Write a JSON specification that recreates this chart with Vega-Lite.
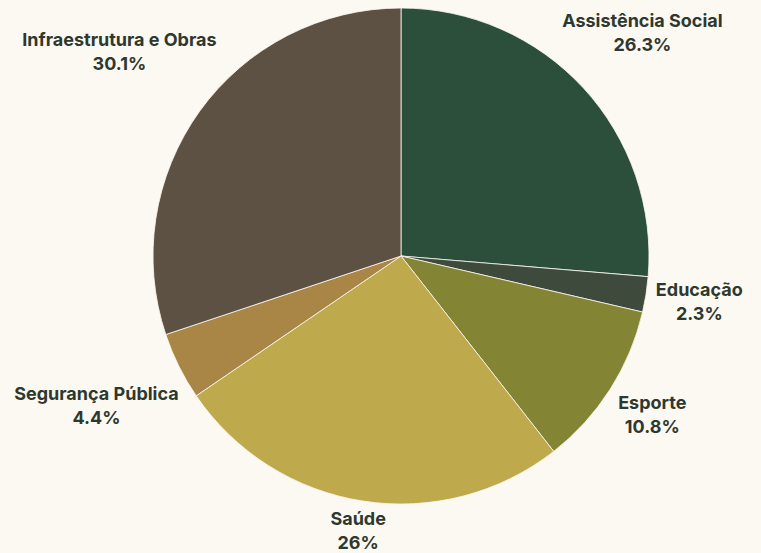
{
  "$schema": "https://vega.github.io/schema/vega-lite/v6.json",
  "width": 802,
  "height": 512,
  "autosize": "none",
  "padding": {"left": 0, "top": 0, "right": 0, "bottom": 41},
  "background": "#fcf8f2",
  "view": {"stroke": null},
  "data": {"values": [
    {"categoria": "Assistência Social", "valor": 26.3, "rotulo": "Assistência Social\n26.3%", "ordem": 1},
    {"categoria": "Educação", "valor": 2.3, "rotulo": "Educação\n2.3%", "ordem": 2},
    {"categoria": "Esporte", "valor": 10.8, "rotulo": "Esporte\n10.8%", "ordem": 3},
    {"categoria": "Saúde", "valor": 26.0, "rotulo": "Saúde\n26%", "ordem": 4},
    {"categoria": "Segurança Pública", "valor": 4.4, "rotulo": "Segurança Pública\n4.4%", "ordem": 5},
    {"categoria": "Infraestrutura e Obras", "valor": 30.1, "rotulo": "Infraestrutura e Obras\n30.1%", "ordem": 6}
  ]},
  "encoding": {
    "theta": {"field": "valor", "type": "quantitative", "stack": true},
    "order": {"field": "ordem", "type": "quantitative", "sort": "ascending"}
  },
  "layer": [
    {
      "mark": {"type": "arc", "outerRadius": 248, "stroke": "#fcf8f2", "strokeWidth": 0.8},
      "encoding": {
        "color": {
          "field": "categoria", "type": "nominal", "legend": null,
          "scale": {
            "domain": ["Assistência Social", "Educação", "Esporte", "Saúde", "Segurança Pública", "Infraestrutura e Obras"],
            "range": ["#2b4f3a", "#3e4a3c", "#838535", "#bea94c", "#a98645", "#5c5142"]
          }
        }
      }
    },
    {
      "mark": {
        "type": "text",
        "radius": {"expr": "datum.categoria == 'Assistência Social' ? 328 : datum.categoria == 'Educação' ? 302 : datum.categoria == 'Esporte' ? 298 : datum.categoria == 'Saúde' ? 279 : datum.categoria == 'Segurança Pública' ? 340 : 347"},
        "font": "Inter", "fontWeight": 700, "fontSize": 18, "lineHeight": 24, "lineBreak": "\n",
        "align": "center", "baseline": "middle", "dy": -12, "color": "#2e382e"
      },
      "encoding": {"text": {"field": "rotulo", "type": "nominal"}}
    }
  ]
}
